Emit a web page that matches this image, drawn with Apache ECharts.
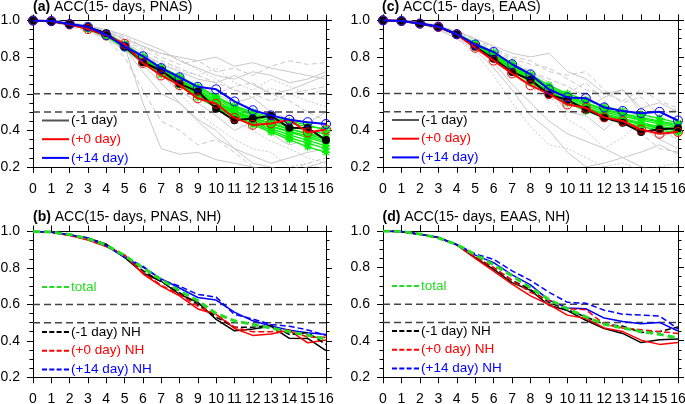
<!DOCTYPE html>
<html>
<head>
<meta charset="utf-8">
<script src="https://cdn.jsdelivr.net/npm/echarts@6/dist/echarts.min.js"></script>
<style>
html,body{margin:0;padding:0;background:#fff;}
#chart{width:685px;height:404px;}
</style>
</head>
<body>
<div id="chart"></div>
<script>
// 横轴: 预报天数
let days = [0,1,2,3,4,5,6,7,8,9,10,11,12,13,14,15,16]
let refLevels = [0.6, 0.5]

// (a) PNAS 平均线
let aBlack = [1.0,0.996,0.98,0.964,0.93,0.858,0.772,0.727,0.655,0.612,0.518,0.455,0.465,0.48,0.414,0.413,0.347]
let aRed   = [1.0,0.996,0.978,0.953,0.918,0.872,0.768,0.70,0.647,0.575,0.545,0.468,0.43,0.438,0.458,0.389,0.405]
let aBlue  = [1.0,0.997,0.981,0.966,0.921,0.858,0.805,0.74,0.69,0.638,0.624,0.558,0.51,0.482,0.458,0.445,0.435]

// (c) EAAS 平均线
let cBlack = [1.0,0.996,0.982,0.964,0.924,0.855,0.79,0.718,0.675,0.594,0.565,0.512,0.467,0.44,0.39,0.405,0.41]
let cRed   = [1.0,0.996,0.982,0.963,0.924,0.85,0.78,0.71,0.645,0.598,0.54,0.522,0.47,0.45,0.403,0.38,0.39]
let cBlue  = [1.0,0.996,0.982,0.966,0.924,0.868,0.827,0.76,0.705,0.622,0.579,0.575,0.524,0.505,0.493,0.5,0.453]

// (a) 灰色单个样本
let grayA = [
    [1,1,.99,.97,.94,.9,.86,.82,.8,.78,.8,.75,.77,.74,.72,.7,.68],
    [1,1,.99,.97,.95,.91,.86,.8,.76,.78,.72,.74,.7,.75,.78,.76,.77],
    [1,1,.98,.96,.93,.88,.82,.76,.72,.68,.66,.7,.65,.6,.62,.66,.7],
    [1,.99,.98,.95,.9,.84,.78,.72,.66,.6,.52,.45,.4,.34,.3,.25,.22],
    [1,1,.98,.95,.92,.86,.55,.3,.27,.28,.24,.22,.2,.18,.15,.18,.2],
    [1,.99,.97,.94,.9,.8,.62,.45,.4,.32,.35,.28,.2,.15,.18,.22,.25],
    [1,1,.98,.96,.92,.86,.8,.74,.7,.64,.6,.55,.58,.5,.46,.44,.5],
    [1,1,.99,.96,.93,.87,.8,.72,.6,.5,.42,.35,.3,.28,.2,.22,.18],
    [1,1,.98,.95,.91,.86,.79,.7,.62,.55,.48,.4,.45,.38,.32,.35,.4],
    [1,1,.99,.97,.94,.89,.84,.78,.74,.7,.66,.62,.6,.56,.6,.62,.64],
    [1,1,.98,.95,.9,.84,.76,.66,.55,.45,.36,.3,.26,.22,.25,.28,.3],
    [1,1,.99,.97,.94,.9,.85,.82,.79,.73,.68,.62,.58,.63,.6,.56,.53],
    [1,1,.98,.95,.92,.85,.72,.6,.55,.46,.4,.3,.22,.2,.17,.2,.23],
    [1,1,.99,.97,.93,.88,.82,.75,.68,.62,.6,.64,.66,.6,.56,.5,.45],
    [1,1,.99,.97,.95,.92,.88,.84,.78,.74,.7,.68,.72,.7,.66,.68,.72],
    [1,1,.99,.96,.92,.87,.81,.77,.73,.7,.74,.66,.62,.68,.64,.6,.62]
]
// (c) 灰色单个样本
let grayC = [
    [1,1,.99,.97,.94,.9,.86,.82,.8,.82,.72,.68,.6,.62,.52,.55,.5],
    [1,1,.99,.97,.94,.9,.85,.8,.78,.72,.7,.72,.62,.55,.58,.48,.52],
    [1,1,.98,.96,.92,.87,.8,.74,.66,.62,.5,.48,.4,.5,.42,.35,.3],
    [1,1,.98,.95,.9,.82,.7,.55,.42,.32,.3,.25,.2,.22,.18,.2,.22],
    [1,1,.98,.95,.9,.84,.74,.62,.48,.4,.28,.2,.22,.25,.2,.18,.2],
    [1,1,.98,.96,.92,.86,.78,.7,.64,.56,.6,.66,.56,.45,.38,.3,.28],
    [1,1,.99,.97,.93,.88,.82,.76,.72,.66,.58,.52,.58,.62,.5,.44,.38],
    [1,1,.98,.96,.92,.86,.8,.72,.68,.6,.46,.4,.3,.36,.45,.4,.35],
    [1,1,.98,.96,.91,.85,.77,.65,.55,.45,.38,.34,.3,.25,.28,.32,.27],
    [1,1,.99,.97,.94,.89,.84,.79,.76,.74,.68,.62,.6,.56,.62,.56,.52],
    [1,1,.98,.96,.92,.86,.8,.74,.7,.62,.55,.52,.48,.45,.4,.42,.46],
    [1,1,.99,.96,.92,.87,.82,.76,.7,.63,.58,.56,.54,.5,.46,.48,.42],
    [1,1,.98,.96,.92,.87,.81,.75,.69,.6,.52,.6,.5,.42,.48,.36,.4],
    [1,1,.99,.97,.93,.88,.83,.78,.72,.68,.64,.58,.52,.46,.5,.44,.33]
]
// 绿色样本
let greenA = [
    [1,.997,.98,.96,.925,.865,.79,.73,.68,.62,.57,.52,.48,.45,.42,.4,.38],
    [1,.997,.98,.955,.92,.86,.78,.72,.66,.6,.55,.5,.46,.42,.39,.36,.33],
    [1,.997,.98,.96,.93,.87,.8,.74,.69,.63,.58,.53,.49,.46,.44,.42,.41],
    [1,.997,.978,.955,.915,.855,.775,.71,.65,.59,.53,.48,.44,.4,.36,.33,.3],
    [1,.997,.98,.96,.925,.868,.795,.735,.675,.615,.56,.51,.47,.44,.41,.38,.35],
    [1,.997,.978,.952,.912,.85,.77,.705,.645,.58,.525,.47,.43,.39,.35,.31,.28],
    [1,.997,.98,.962,.93,.872,.805,.745,.695,.64,.585,.535,.5,.47,.45,.43,.4],
    [1,.997,.979,.958,.92,.862,.785,.722,.662,.6,.545,.495,.455,.425,.395,.37,.34],
    [1,.997,.98,.958,.922,.866,.79,.728,.672,.608,.552,.505,.465,.435,.405,.385,.36],
    [1,.997,.979,.957,.918,.858,.782,.716,.656,.594,.538,.488,.448,.41,.375,.345,.315]
]
let greenC = [
    [1,.997,.982,.963,.925,.86,.8,.73,.67,.61,.56,.52,.48,.46,.43,.41,.4],
    [1,.997,.982,.963,.926,.865,.81,.745,.685,.625,.575,.535,.5,.475,.455,.435,.415],
    [1,.997,.982,.964,.927,.87,.82,.755,.695,.635,.59,.55,.515,.49,.47,.45,.43],
    [1,.997,.982,.962,.922,.855,.795,.725,.66,.6,.55,.505,.47,.445,.42,.4,.385],
    [1,.997,.982,.965,.928,.875,.825,.765,.705,.645,.6,.565,.53,.505,.485,.465,.44],
    [1,.997,.982,.963,.924,.862,.805,.74,.675,.615,.565,.525,.49,.465,.44,.42,.405],
    [1,.997,.982,.964,.926,.868,.815,.75,.69,.63,.582,.545,.51,.485,.462,.445,.422],
    [1,.997,.982,.963,.925,.863,.803,.735,.672,.612,.562,.522,.485,.455,.432,.412,.395]
]

// (b) NH 虚线
let bTotal   = [1,.997,.984,.96,.925,.868,.8,.735,.675,.62,.55,.51,.49,.47,.45,.43,.41]
let bBlackNH = [1,.997,.982,.962,.93,.86,.785,.725,.665,.6,.53,.475,.475,.485,.435,.445,.38]
let bRedNH   = [1,.997,.98,.955,.918,.868,.775,.705,.655,.59,.545,.475,.45,.45,.46,.42,.42]
let bBlueNH  = [1,.997,.982,.965,.922,.86,.81,.735,.7,.655,.64,.545,.52,.49,.48,.46,.43]
// (d) NH 虚线
let dTotal   = [1,.997,.984,.962,.926,.87,.815,.755,.69,.625,.575,.53,.49,.47,.45,.435,.415]
let dBlackNH = [1,.997,.982,.964,.924,.858,.8,.73,.68,.61,.57,.53,.49,.48,.445,.45,.475]
let dRedNH   = [1,.997,.982,.964,.925,.86,.8,.73,.665,.62,.575,.57,.49,.47,.46,.45,.44]
let dBlueNH  = [1,.997,.982,.964,.926,.875,.845,.782,.73,.665,.61,.605,.567,.545,.54,.535,.465]

let titles = [
    ['(a)', 'ACC(15- days, PNAS)'],
    ['(c)', 'ACC(15- days, EAAS)'],
    ['(b)', 'ACC(15- days, PNAS, NH)'],
    ['(d)', 'ACC(15- days, EAAS, NH)']
]

let font = '"Liberation Sans", Arial, Helvetica, sans-serif'
let star = 'path://M5,0L5,10M0,5L10,5M1.5,1.5L8.5,8.5M1.5,8.5L8.5,1.5'
let dashIcon = 'path://M0,0H5V2H0ZM7.3,0H12.3V2H7.3ZM14.6,0H19.6V2H14.6ZM21.9,0H27V2H21.9Z'
let grayTypes = ['solid', [5,3], 'solid', [2,2]]
let green = '#00ee00'

// 四个子图位置 (a) (c) (b) (d)
let grids = [
    {left:33, top:20.5, width:293, height:146.5},
    {left:383, top:20.3, width:295, height:146.5},
    {left:33, top:231.5, width:293, height:145.8},
    {left:383, top:231, width:295, height:146.3}
]
grids.forEach(g => { g.outerBoundsMode = 'none'; g.containLabel = false })

let pairs = arr => arr.map((v,i) => [days[i], v])
let tickLine = {color:'#000', width:1}

let xAxis = [], yAxis = [], series = []
grids.forEach((g, gi) => {
    xAxis.push({type:'value', gridIndex:gi, min:0, max:16, interval:1, position:'bottom',
        axisLine:{show:true, onZero:false, lineStyle:tickLine},
        axisTick:{show:true, inside:false, length:6, lineStyle:tickLine},
        axisLabel:{fontSize:14, color:'#000', margin:15, fontFamily:font},
        splitLine:{show:false}})
    xAxis.push({type:'value', gridIndex:gi, min:0, max:16, interval:1, position:'top',
        axisLine:{show:true, onZero:false, lineStyle:tickLine},
        axisTick:{show:true, inside:false, length:6, lineStyle:tickLine},
        axisLabel:{show:false}, splitLine:{show:false}})
    yAxis.push({type:'value', gridIndex:gi, min:0.2, max:1.0, interval:0.2, position:'left',
        axisLine:{show:true, onZero:false, lineStyle:tickLine},
        axisTick:{show:true, inside:false, length:6, lineStyle:tickLine},
        minorTick:{show:true, splitNumber:4, length:3.5, lineStyle:tickLine},
        axisLabel:{fontSize:14, color:'#000', margin:13, fontFamily:font, formatter: v => v.toFixed(1)},
        splitLine:{show:false}})
    yAxis.push({type:'value', gridIndex:gi, min:0.2, max:1.0, interval:0.2, position:'right',
        axisLine:{show:true, onZero:false, lineStyle:tickLine},
        axisTick:{show:true, inside:false, length:6, lineStyle:tickLine},
        minorTick:{show:true, splitNumber:4, length:3.5, lineStyle:tickLine},
        axisLabel:{show:false}, splitLine:{show:false}})
})

function addLine(gi, data, o){
    series.push(Object.assign({type:'line', xAxisIndex:gi*2, yAxisIndex:gi*2, data:data,
        symbol:'none', animation:false, silent:true, clip:true}, o))
}

// 上图: 灰线 + 绿线 + 三条平均线
let topPanels = [[grayA, greenA, aBlack, aRed, aBlue], [grayC, greenC, cBlack, cRed, cBlue]]
topPanels.forEach((p, gi) => {
    p[0].forEach((arr, k) => addLine(gi, pairs(arr), {z:1,
        lineStyle:{color:'#c8c8c8', width:1, type:grayTypes[k % grayTypes.length]}}))
    p[1].forEach(arr => addLine(gi, pairs(arr), {z:3, symbol:star, symbolSize:8, showAllSymbol:true,
        lineStyle:{color:green, width:1.3},
        itemStyle:{color:'none', borderColor:green, borderWidth:1.2}}))
    addLine(gi, pairs(p[2]), {z:4, name:'(-1 day)', symbol:'circle', symbolSize:8, showAllSymbol:true,
        lineStyle:{color:'#000', width:2}, itemStyle:{color:'#000'}})
    addLine(gi, pairs(p[3]), {z:5, name:'(+0 day)', symbol:'circle', symbolSize:9, showAllSymbol:true,
        lineStyle:{color:'#ff0000', width:2}, itemStyle:{color:'none', borderColor:'#ff0000', borderWidth:1}})
    addLine(gi, pairs(p[4]), {z:6, name:'(+14 day)', symbol:'circle', symbolSize:9, showAllSymbol:true,
        lineStyle:{color:'#0000ff', width:2}, itemStyle:{color:'none', borderColor:'#0000ff', borderWidth:1}})
})

// 下图: 实线(同上图) + NH 虚线 + total
let bottomPanels = [[aBlack, aRed, aBlue, bBlackNH, bRedNH, bBlueNH, bTotal],
                    [cBlack, cRed, cBlue, dBlackNH, dRedNH, dBlueNH, dTotal]]
let cols = ['#000000', '#ff0000', '#0000ff']
let nhNames = ['(-1 day) NH', '(+0 day) NH', '(+14 day) NH']
bottomPanels.forEach((p, k) => {
    let gi = k + 2
    for(let i = 0; i < 3; i++){
        addLine(gi, pairs(p[i]), {z:3, lineStyle:{color:cols[i], width:1.5}})
        addLine(gi, pairs(p[i+3]), {z:4, name:nhNames[i], lineStyle:{color:cols[i], width:1.5, type:[6,3]}})
    }
    addLine(gi, pairs(p[6]), {z:5, name:'total', lineStyle:{color:'#22dd22', width:3, type:[7,4]}})
})

// 0.6 / 0.5 参考虚线
grids.forEach((g, gi) => {
    refLevels.forEach(v => addLine(gi, [[days[0], v], [days[days.length-1], v]],
        {z:2, lineStyle:{color:'#444', width:1.5, type:[7,4]}}))
})

function item(name, color, textColor, icon){
    return {name:name, icon:icon, itemStyle:{color:color, borderWidth:0}, textStyle:{color:textColor}}
}
let topItems = [item('(-1 day)', '#555', '#000', 'rect'), item('(+0 day)', '#f00', '#f00', 'rect'), item('(+14 day)', '#00f', '#00f', 'rect')]
let nhItems = [item('(-1 day) NH', '#000', '#000', dashIcon), item('(+0 day) NH', '#f00', '#f00', dashIcon), item('(+14 day) NH', '#00f', '#00f', dashIcon)]
let totalItems = [item('total', '#22dd22', '#22dd22', dashIcon)]

let legendBase = {orient:'vertical', itemWidth:27, itemHeight:2, itemGap:4.7, padding:0, selectedMode:false,
    textStyle:{fontSize:13.5, fontFamily:font, lineHeight:14, padding:[0,0,0,-3]}}
let legend = [
    Object.assign({}, legendBase, {left:42, top:113.5, data:topItems}),
    Object.assign({}, legendBase, {left:392, top:113, data:topItems}),
    Object.assign({}, legendBase, {left:42, top:280, data:totalItems}),
    Object.assign({}, legendBase, {left:42, top:325, data:nhItems}),
    Object.assign({}, legendBase, {left:392, top:279, data:totalItems}),
    Object.assign({}, legendBase, {left:392, top:324, data:nhItems})
]

let titlePos = [[33, 0.5], [382, 0], [33, 210], [382.5, 210]]
let title = titles.map((t, i) => ({
    text:'{b|' + t[0] + '} ' + t[1], left:titlePos[i][0], top:titlePos[i][1], padding:0,
    textStyle:{fontSize:14, fontWeight:'normal', color:'#000', fontFamily:font,
        rich:{b:{fontSize:14, fontWeight:'bold', color:'#000', fontFamily:font}}}
}))

let chart = echarts.init(document.getElementById('chart'))
chart.setOption({
    animation:false,
    backgroundColor:'#fff',
    title:title,
    legend:legend,
    grid:grids,
    xAxis:xAxis,
    yAxis:yAxis,
    series:series
})
</script>
</body>
</html>
